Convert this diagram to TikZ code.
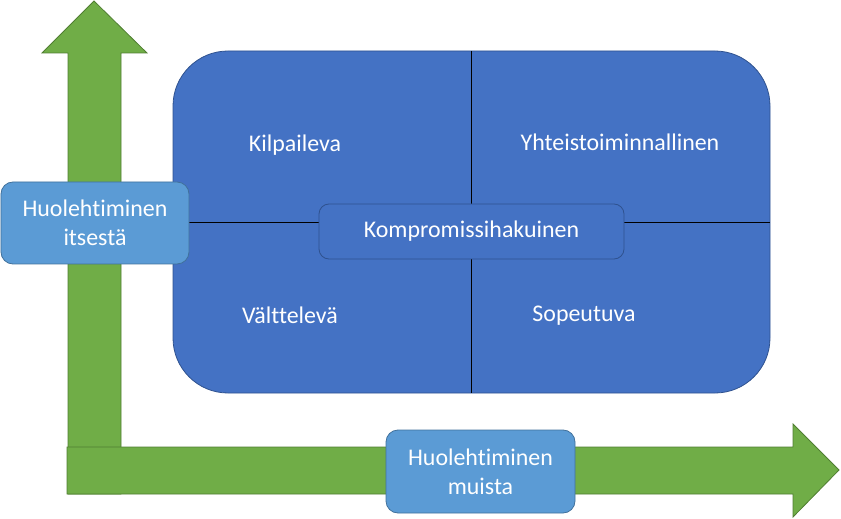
\documentclass[tikz,border=0pt]{standalone}
\usepackage{fontspec}
\setmainfont[Ligatures=NoCommon]{Carlito}
\definecolor{grn}{HTML}{70AD47}
\definecolor{grnd}{HTML}{507E32}
\definecolor{blu}{HTML}{4472C4}
\definecolor{blud}{HTML}{2F528F}
\definecolor{lblu}{HTML}{5B9BD5}
\definecolor{lblud}{HTML}{41719C}
\tikzset{
  arrowshape/.style={fill=grn,draw=grnd,line width=0.8bp,line join=miter},
  bigbox/.style={fill=blu,draw=blud,line width=0.8bp},
  lbl/.style={text=white,font=\fontsize{24}{29}\selectfont,align=center},
  axisbox/.style={fill=lblu,draw=lblud,line width=0.8bp,rounded corners=12bp,text=white,font=\fontsize{24}{29}\selectfont,align=center},
  midbox/.style={fill=blu,draw=blud,line width=0.8bp,rounded corners=10bp,text=white,font=\fontsize{24}{29}\selectfont},
  divider/.style={draw=black,line width=0.8bp}
}
\begin{document}
\begin{tikzpicture}[x=1bp,y=-1bp]
\useasboundingbox (0,0) rectangle (841,519);
% vertical arrow
\draw[arrowshape] (68,494) -- (68,53) -- (42,53) -- (94,1) -- (147,53) -- (121,53) -- (121,494) -- cycle;
% horizontal arrow
\draw[arrowshape] (67,447) -- (793,447) -- (793,424) -- (839,470) -- (793,517) -- (793,494) -- (67,494) -- cycle;
% big box
\draw[bigbox,rounded corners=55bp] (173,51) rectangle (770,393);
\coordinate (vt) at (471,51);
\coordinate (vb) at (471,393);
\coordinate (hl) at (173,222);
\coordinate (hr) at (770,222);
\draw[divider] (vt) -- (vb);
\draw[divider] (hl) -- (hr);
% quadrant labels
\node[lbl] (k) at (295,145) {Kilpaileva};
\node[lbl] (y) at (620,142) {Yhteistoiminnallinen};
\node[lbl] (v) at (290,315) {Välttelevä};
\node[lbl] (s) at (584,316) {Sopeutuva};
% center box
\node[midbox,minimum width=305bp,minimum height=55bp,inner sep=0pt] (c) at (471.5,231.5) {\raisebox{-2bp}{Kompromissihakuinen}};
% axis boxes
\node[axisbox,minimum width=188bp,minimum height=82bp,inner sep=0pt] (a1) at (95,223) {Huolehtiminen\\itsestä};
\node[axisbox,minimum width=189bp,minimum height=83bp,inner sep=0pt] (a2) at (480.5,471.5) {Huolehtiminen\\muista};
\end{tikzpicture}
\end{document}
